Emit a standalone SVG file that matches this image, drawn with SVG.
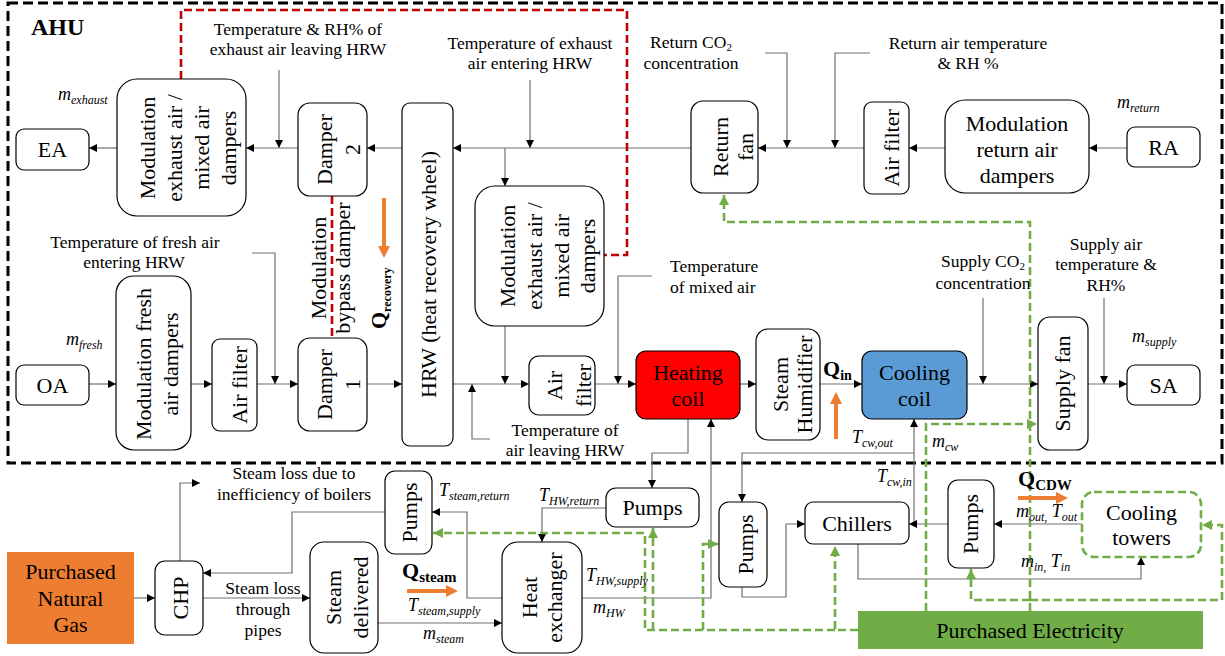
<svg xmlns="http://www.w3.org/2000/svg" width="1225" height="656" viewBox="0 0 1225 656">
<style>
text{font-family:"Liberation Serif","Times New Roman",serif;fill:#000}
.n{font-size:22px;text-anchor:middle}
.s{font-size:17.5px;text-anchor:middle}
.it{font-style:italic;font-size:18px}
.sub{font-size:12px}
.b{font-weight:bold}
.box{fill:#fff;stroke:#000;stroke-width:1.2}
.c{fill:none;stroke:#707070;stroke-width:1.2}
.g{fill:none;stroke:#70AD47;stroke-width:2.6;stroke-dasharray:8 4}
.r{fill:none;stroke:#C00000;stroke-width:2.6;stroke-dasharray:8 4}
.o{stroke:#ED7D31;stroke-width:4;fill:none}
</style>
<defs>
<marker id="ah" markerUnits="userSpaceOnUse" markerWidth="9" markerHeight="8" viewBox="0 0 10 10" refX="10" refY="5" orient="auto"><path d="M0,0 L10,5 L0,10 z" fill="#000"/></marker>
<marker id="gh" markerUnits="userSpaceOnUse" markerWidth="11" markerHeight="10" viewBox="0 0 10 10" refX="10" refY="5" orient="auto"><path d="M0,0 L10,5 L0,10 z" fill="#70AD47"/></marker>
</defs>
<rect width="1225" height="656" fill="#fff"/>

<!-- AHU boundary -->
<rect x="8" y="3" width="1214" height="460" fill="none" stroke="#000" stroke-width="3" stroke-dasharray="10 5"/>
<text x="31" y="35" class="b" font-size="24">AHU</text>

<!-- bottom filled boxes drawn first -->
<g id="natural-gas"><rect x="7" y="552" width="127" height="92" fill="#ED7D31"/><text class="n"><tspan x="70.5" y="579">Purchased</tspan><tspan x="70.5" y="606">Natural</tspan><tspan x="70.5" y="632">Gas</tspan></text></g>
<g id="electricity"><rect x="858" y="611" width="345" height="38" fill="#70AD47"/><text class="n" x="1030" y="638">Purchased Electricity</text></g>

<g id="connectors">
<!-- AHU top row -->
<path class="c" d="M1127,148 L1089,148" marker-end="url(#ah)"/>
<path class="c" d="M945,148 L909,148" marker-end="url(#ah)"/>
<path class="c" d="M864,148 L758,148" marker-end="url(#ah)"/>
<path class="c" d="M870,53 L835,53 L835,148" marker-end="url(#ah)"/>
<path class="c" d="M765,53 L787,53 L787,148" marker-end="url(#ah)"/>
<path class="c" d="M691,148 L453,148" marker-end="url(#ah)"/>
<path class="c" d="M530,80 L530,148" marker-end="url(#ah)"/>
<path class="c" d="M505,148 L505,186" marker-end="url(#ah)"/>
<path class="c" d="M402,148 L367,148" marker-end="url(#ah)"/>
<path class="c" d="M279,70 L279,148" marker-end="url(#ah)"/>
<path class="c" d="M298,148 L246,148" marker-end="url(#ah)"/>
<path class="c" d="M117,148 L89,148" marker-end="url(#ah)"/>
<!-- AHU bottom row -->
<path class="c" d="M89,384 L116,384" marker-end="url(#ah)"/>
<path class="c" d="M191,384 L212,384" marker-end="url(#ah)"/>
<path class="c" d="M257,384 L298,384" marker-end="url(#ah)"/>
<path class="c" d="M252,253 L275,253 L275,384" marker-end="url(#ah)"/>
<path class="c" d="M367,384 L402,384" marker-end="url(#ah)"/>
<path class="c" d="M453,384 L529,384" marker-end="url(#ah)"/>
<path class="c" d="M490,439 L472,439 L472,384" marker-end="url(#ah)"/>
<path class="c" d="M505,326 L505,384" marker-end="url(#ah)"/>
<path class="c" d="M595,384 L636,384" marker-end="url(#ah)"/>
<path class="c" d="M652,276 L618,276 L618,384" marker-end="url(#ah)"/>
<path class="c" d="M740,384 L756,384" marker-end="url(#ah)"/>
<path class="c" d="M820,384 L862,384" marker-end="url(#ah)"/>
<path class="c" d="M967,384 L1038,384" marker-end="url(#ah)"/>
<path class="c" d="M983,298 L983,384" marker-end="url(#ah)"/>
<path class="c" d="M1088,384 L1127,384" marker-end="url(#ah)"/>
<path class="c" d="M1104,298 L1104,384" marker-end="url(#ah)"/>
<!-- water / steam side -->
<path class="c" d="M688,419 L688,453 L652,453 L652,488" marker-end="url(#ah)"/>
<path class="c" d="M582,598 L711,598 L711,419" marker-end="url(#ah)"/>
<path class="c" d="M606,508 L542,508 L542,542" marker-end="url(#ah)"/>
<path class="c" d="M502,598 L467,598 L467,512 L432,512" marker-end="url(#ah)"/>
<path class="c" d="M385,512 L292,512 L292,573 L203,573" marker-end="url(#ah)"/>
<path class="c" d="M134,598 L155,598" marker-end="url(#ah)"/>
<path class="c" d="M203,598 L310,598" marker-end="url(#ah)"/>
<path class="c" d="M180,561 L180,483 L200,483" marker-end="url(#ah)"/>
<path class="c" d="M378,623 L502,623" marker-end="url(#ah)"/>
<path class="c" d="M914,524 L914,419" marker-end="url(#ah)"/>
<path class="c" d="M914,453 L742,453 L742,502" marker-end="url(#ah)"/>
<path class="c" d="M742,587 L742,597 L786,597 L786,524 L805,524" marker-end="url(#ah)"/>
<path class="c" d="M948,524 L909,524" marker-end="url(#ah)"/>
<path class="c" d="M1082,524 L994,524" marker-end="url(#ah)"/>
<path class="c" d="M858,544 L858,579 L1141,579 L1141,557" marker-end="url(#ah)"/>
<!-- electricity (green dashed) -->
<path class="g" d="M1030,611 L1030,222 L724,222 L724,195" marker-end="url(#gh)"/>
<path class="g" d="M926,611 L926,424 L1037,424" marker-end="url(#gh)"/>
<path class="g" d="M858,630 L835,630 L835,546" marker-end="url(#gh)"/>
<path class="g" d="M835,630 L645,630 L645,533 L433,533" marker-end="url(#gh)"/>
<path class="g" d="M653,630 L653,528" marker-end="url(#gh)"/>
<path class="g" d="M703,630 L703,544 L718,544" marker-end="url(#gh)"/>
<path class="g" d="M1030,600 L971,600 L971,569" marker-end="url(#gh)"/>
<path class="g" d="M1030,600 L1222,600 L1222,525 L1202,525" marker-end="url(#gh)"/>
<!-- bypass control (red dashed) -->
<path class="r" d="M181,79 L181,10 L627,10 L627,255 L604,255"/>
<path class="r" d="M332,196 L332,338"/>
</g>

<!-- AHU nodes -->
<g id="EA"><rect class="box" x="16" y="129" width="73" height="41" rx="8"/><text class="n" x="52.5" y="157">EA</text></g>
<g id="mod-exhaust-1"><rect class="box" x="117" y="79" width="129" height="137" rx="20"/><text class="n" transform="translate(181.5,148) rotate(-90)"><tspan x="0" y="-27">Modulation</tspan><tspan x="0" y="0">exhaust air /</tspan><tspan x="0" y="27">mixed air</tspan><tspan x="0" y="54">dampers</tspan></text></g>
<g id="damper-2"><rect class="box" x="298" y="103" width="69" height="93" rx="12"/><text class="n" transform="translate(332.5,149.5) rotate(-90)"><tspan x="0" y="-1">Damper</tspan><tspan x="0" y="27">2</tspan></text></g>
<g id="HRW"><rect class="box" x="402" y="103" width="51" height="343" rx="8"/><text class="n" transform="translate(427.5,274.5) rotate(-90)" y="8.5">HRW (heat recovery wheel)</text></g>
<g id="mod-exhaust-2"><rect class="box" x="475" y="186" width="129" height="140" rx="20"/><text class="n" transform="translate(539.5,256) rotate(-90)"><tspan x="0" y="-25">Modulation</tspan><tspan x="0" y="2">exhaust air /</tspan><tspan x="0" y="29">mixed air</tspan><tspan x="0" y="55">dampers</tspan></text></g>
<g id="return-fan"><rect class="box" x="691" y="101" width="67" height="92" rx="12"/><text class="n" transform="translate(724.5,147) rotate(-90)"><tspan x="0" y="3.5">Return</tspan><tspan x="0" y="28.5">fan</tspan></text></g>
<g id="air-filter-return"><rect class="box" x="864" y="102" width="45" height="92" rx="8"/><text class="n" transform="translate(886.5,148) rotate(-90)" y="12">Air filter</text></g>
<g id="mod-return"><rect class="box" x="945" y="100" width="144" height="93" rx="20"/><text class="n"><tspan x="1017" y="131">Modulation</tspan><tspan x="1017" y="157">return air</tspan><tspan x="1017" y="183">dampers</tspan></text></g>
<g id="RA"><rect class="box" x="1127" y="127" width="73" height="40" rx="8"/><text class="n" x="1163.5" y="155">RA</text></g>

<g id="OA"><rect class="box" x="16" y="365" width="73" height="40" rx="8"/><text class="n" x="52.5" y="393">OA</text></g>
<g id="mod-fresh"><rect class="box" x="116" y="276" width="75" height="174" rx="18"/><text class="n" transform="translate(153.5,364) rotate(-90)"><tspan x="0" y="-2.5">Modulation fresh</tspan><tspan x="0" y="24.5">air dampers</tspan></text></g>
<g id="air-filter-fresh"><rect class="box" x="212" y="339" width="45" height="92" rx="8"/><text class="n" transform="translate(234.5,385) rotate(-90)" y="12">Air filter</text></g>
<g id="damper-1"><rect class="box" x="298" y="338" width="69" height="93" rx="12"/><text class="n" transform="translate(332.5,384.5) rotate(-90)"><tspan x="0" y="-1">Damper</tspan><tspan x="0" y="27">1</tspan></text></g>
<g id="air-filter-mixed"><rect class="box" x="529" y="356" width="66" height="59" rx="10"/><text class="n" transform="translate(562,385.5) rotate(-90)"><tspan x="0" y="0">Air</tspan><tspan x="0" y="29">filter</tspan></text></g>
<g id="heating-coil"><rect x="636" y="351" width="104" height="68" rx="10" fill="#FF0000" stroke="#000" stroke-width="1.2"/><text class="n"><tspan x="688" y="380">Heating</tspan><tspan x="688" y="406">coil</tspan></text></g>
<g id="steam-humidifier"><rect class="box" x="756" y="329" width="64" height="111" rx="12"/><text class="n" font-size="19.5" transform="translate(788,384.5) rotate(-90)"><tspan x="0" y="0">Steam</tspan><tspan x="0" y="24">Humidifier</tspan></text></g>
<g id="cooling-coil"><rect x="862" y="351" width="105" height="68" rx="10" fill="#5B9BD5" stroke="#000" stroke-width="1.2"/><text class="n"><tspan x="914.5" y="380">Cooling</tspan><tspan x="914.5" y="406">coil</tspan></text></g>
<g id="supply-fan"><rect class="box" x="1038" y="317" width="50" height="133" rx="12"/><text class="n" transform="translate(1063,383.5) rotate(-90)" y="7">Supply fan</text></g>
<g id="SA"><rect class="box" x="1127" y="365" width="73" height="40" rx="8"/><text class="n" x="1163.5" y="393">SA</text></g>

<!-- plant nodes -->
<g id="CHP"><rect class="box" x="155" y="561" width="48" height="74" rx="10"/><text class="n" transform="translate(179,598) rotate(-90)" y="9">CHP</text></g>
<g id="steam-delivered"><rect class="box" x="310" y="542" width="68" height="111" rx="14"/><text class="n" transform="translate(344,597.5) rotate(-90)"><tspan x="0" y="-3">Steam</tspan><tspan x="0" y="24">delivered</tspan></text></g>
<g id="steam-pumps"><rect class="box" x="385" y="471" width="47" height="83" rx="10"/><text class="n" transform="translate(408.5,512.5) rotate(-90)" y="8.5">Pumps</text></g>
<g id="heat-exchanger"><rect class="box" x="502" y="542" width="80" height="111" rx="16"/><text class="n" transform="translate(542,597.5) rotate(-90)"><tspan x="0" y="-5">Heat</tspan><tspan x="0" y="20">exchanger</tspan></text></g>
<g id="hw-pumps"><rect class="box" x="606" y="488" width="93" height="39" rx="10"/><text class="n" x="652.5" y="515">Pumps</text></g>
<g id="chw-pumps"><rect class="box" x="719" y="502" width="48" height="85" rx="10"/><text class="n" transform="translate(743,544.5) rotate(-90)" y="10">Pumps</text></g>
<g id="chillers"><rect class="box" x="805" y="502" width="104" height="42" rx="8"/><text class="n" x="857" y="531">Chillers</text></g>
<g id="cdw-pumps"><rect class="box" x="948" y="480" width="46" height="88" rx="10"/><text class="n" transform="translate(971,524) rotate(-90)" y="7">Pumps</text></g>
<g id="cooling-towers"><rect x="1082" y="492" width="119" height="65" rx="12" fill="#fff" stroke="#70AD47" stroke-width="2.6" stroke-dasharray="8 4"/><text class="n"><tspan x="1141.5" y="520">Cooling</tspan><tspan x="1141.5" y="545">towers</tspan></text></g>

<!-- sensor / info labels -->
<g id="labels">
<text class="s"><tspan x="298" y="35">Temperature &amp; RH% of</tspan><tspan x="298" y="55">exhaust air leaving HRW</tspan></text>
<text class="s"><tspan x="530" y="49">Temperature of exhaust</tspan><tspan x="530" y="69">air entering HRW</tspan></text>
<text class="s" x="691" y="48">Return CO<tspan font-size="11" dy="3">2</tspan></text>
<text class="s" x="691" y="69">concentration</text>
<text class="s"><tspan x="968" y="49">Return air temperature</tspan><tspan x="968" y="69">&amp; RH %</tspan></text>
<text class="s"><tspan x="135" y="248">Temperature of fresh air</tspan><tspan x="134" y="268">entering HRW</tspan></text>
<text class="s" style="text-anchor:start"><tspan x="670" y="272">Temperature</tspan><tspan x="670" y="293">of mixed air</tspan></text>
<text class="s"><tspan x="565" y="436">Temperature of</tspan><tspan x="565" y="456">air leaving HRW</tspan></text>
<text class="s" x="983" y="267">Supply CO<tspan font-size="11" dy="3">2</tspan></text>
<text class="s" x="983" y="289">concentration</text>
<text class="s"><tspan x="1106" y="250">Supply air</tspan><tspan x="1106" y="270">temperature &amp;</tspan><tspan x="1106" y="291">RH%</tspan></text>
<text class="s"><tspan x="294" y="479">Steam loss due to</tspan><tspan x="294" y="500">inefficiency of boilers</tspan></text>
<text class="s"><tspan x="263" y="594">Steam loss</tspan><tspan x="263" y="615">through</tspan><tspan x="263" y="636">pipes</tspan></text>
<text class="n" transform="translate(336,268) rotate(-90)"><tspan x="0" y="-10">Modulation</tspan><tspan x="0" y="14">bypass damper</tspan></text>
</g>

<!-- flow variables -->
<g id="variables">
<text class="it" x="58" y="100">m<tspan class="sub" dy="4">exhaust</tspan></text>
<text class="it" x="1117" y="108">m<tspan class="sub" dy="4">return</tspan></text>
<text class="it" x="66" y="345">m<tspan class="sub" dy="4">fresh</tspan></text>
<text class="it" x="1132" y="342">m<tspan class="sub" dy="4">supply</tspan></text>
<text class="it" x="852" y="443">T<tspan class="sub" dy="4">cw,out</tspan></text>
<text class="it" x="932" y="447">m<tspan class="sub" dy="4">cw</tspan></text>
<text class="it" x="877" y="482">T<tspan class="sub" dy="4">cw,in</tspan></text>
<text class="it" x="439" y="496">T<tspan class="sub" dy="4">steam,return</tspan></text>
<text class="it" x="539" y="501">T<tspan class="sub" dy="4">HW,return</tspan></text>
<text class="it" x="586" y="581">T<tspan class="sub" dy="4">HW,supply</tspan></text>
<text class="it" x="593" y="613">m<tspan class="sub" dy="4">HW</tspan></text>
<text class="it" x="408" y="611">T<tspan class="sub" dy="4">steam,supply</tspan></text>
<text class="it" x="423" y="639">m<tspan class="sub" dy="4">steam</tspan></text>
<text class="it" x="1016" y="517">m<tspan class="sub" dy="4">out,</tspan><tspan dy="-4"> T</tspan><tspan class="sub" dy="4">out</tspan></text>
<text class="it" x="1021" y="567">m<tspan class="sub" dy="4">in,</tspan><tspan dy="-4"> T</tspan><tspan class="sub" dy="4">in</tspan></text>
</g>

<!-- heat flows -->
<g id="heat-flows">
<line class="o" x1="384" y1="198" x2="384" y2="247"/><polygon points="378,246 390,246 384,258" fill="#ED7D31"/>
<text class="b" font-size="22" transform="translate(386,329) rotate(-90)">Q<tspan font-size="12" dy="5">recovery</tspan></text>
<line class="o" x1="836" y1="439" x2="836" y2="403"/><polygon points="830,404 842,404 836,392" fill="#ED7D31"/>
<text class="b" font-size="22" x="823" y="376">Q<tspan font-size="14" dy="4">in</tspan></text>
<line class="o" x1="407" y1="591" x2="447" y2="591"/><polygon points="446,585 446,597 458,591" fill="#ED7D31"/>
<text class="b" font-size="22" x="402" y="578">Q<tspan font-size="15" dy="4">steam</tspan></text>
<line class="o" x1="1018" y1="498" x2="1057" y2="498"/><polygon points="1056,492 1056,504 1068,498" fill="#ED7D31"/>
<text class="b" font-size="22" x="1018" y="486">Q<tspan font-size="15" dy="4">CDW</tspan></text>
</g>
</svg>
